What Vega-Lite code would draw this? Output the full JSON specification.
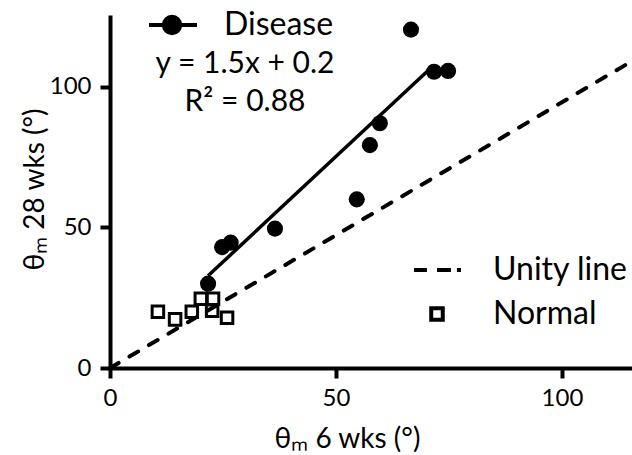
{
  "$schema": "https://vega.github.io/schema/vega-lite/v6.json",
  "width": 522,
  "height": 353,
  "autosize": "none",
  "padding": {"left": 110, "top": 15, "right": 0, "bottom": 87},
  "background": "white",
  "config": {
    "view": {"stroke": null},
    "font": "Lato",
    "axis": {
      "domainColor": "black", "domainWidth": 4, "ticks": true, "tickColor": "black", "tickWidth": 4, "tickSize": 10, "tickOpacity": 1,
      "labelFont": "Lato", "labelFontSize": 24, "labelColor": "black", "labelFlush": false, "grid": false,
      "titleFont": "Lato", "titleFontSize": 28, "titleFontWeight": "normal", "titleColor": "black"
    }
  },
  "datasets": {
    "unity": [{"x": 0, "y": 0}, {"x": 115.5, "y": 109.2}],
    "fit": [{"x": 21.7, "y": 32.8}, {"x": 71.7, "y": 107.8}],
    "normal": [
      {"x": 10.6, "y": 20.0}, {"x": 14.4, "y": 17.3}, {"x": 18.1, "y": 20.0}, {"x": 20.1, "y": 24.6},
      {"x": 22.8, "y": 24.6}, {"x": 22.6, "y": 20.4}, {"x": 25.9, "y": 17.9}
    ],
    "disease": [
      {"x": 21.7, "y": 30.0}, {"x": 24.8, "y": 43.0}, {"x": 26.7, "y": 44.6}, {"x": 36.5, "y": 49.6},
      {"x": 54.6, "y": 60.0}, {"x": 57.5, "y": 79.3}, {"x": 59.7, "y": 87.1}, {"x": 71.7, "y": 105.4},
      {"x": 74.8, "y": 105.7}, {"x": 66.6, "y": 120.4}
    ]
  },
  "encoding": {
    "x": {
      "field": "x", "type": "quantitative",
      "scale": {"domain": [0, 115.5], "nice": false, "zero": false},
      "axis": {"values": [0, 50, 100], "ticks": true, "tickSize": 10, "tickWidth": 4, "labelFlush": false, "title": "θₘ 6 wks (°)", "titleX": 237, "titleY": 79, "titleBaseline": "alphabetic", "labelPadding": 8}
    },
    "y": {
      "field": "y", "type": "quantitative",
      "scale": {"domain": [0, 125.6], "nice": false, "zero": false},
      "axis": {"values": [0, 50, 100], "ticks": true, "tickSize": 10, "tickWidth": 4, "labelFlush": false, "title": "θₘ 28 wks (°)", "titleX": -67, "titleY": 174, "titleBaseline": "alphabetic", "titleAlign": "center", "labelPadding": 9}
    }
  },
  "layer": [
    {
      "data": {"name": "unity"},
      "mark": {"type": "line", "color": "black", "strokeWidth": 4, "strokeDash": [10, 12.6], "strokeCap": "round"}
    },
    {
      "data": {"name": "fit"},
      "mark": {"type": "line", "color": "black", "strokeWidth": 3.5}
    },
    {
      "data": {"name": "normal"},
      "mark": {"type": "point", "filled": false, "color": "black", "strokeWidth": 3, "size": 2304, "opacity": 1},
      "encoding": {
        "shape": {
          "datum": "Normal",
          "scale": {"domain": ["Unity line", "Normal"], "range": ["M-0.96,0H-0.42M0,0H0.58M0.83,0H1", "M-0.24,-0.24H0.24V0.24H-0.24Z"]},
          "legend": {
            "orient": "none", "legendX": 301, "legendY": 229, "padding": 0, "title": null, "rowPadding": 2,
            "labelFontSize": 32, "labelFont": "Lato", "labelColor": "black", "labelOffset": 30,
            "symbolSize": 2304, "symbolStrokeColor": "black", "symbolStrokeWidth": 4, "symbolFillColor": "transparent", "symbolOpacity": 1
          }
        }
      }
    },
    {
      "data": {"name": "disease"},
      "mark": {"type": "point", "filled": true, "size": 260, "opacity": 1},
      "encoding": {
        "color": {
          "datum": "Disease",
          "scale": {"domain": ["Disease"], "range": ["black"]},
          "legend": {
            "orient": "none", "legendX": 45, "legendY": -16, "padding": 0,
            "title": ["y = 1.5x + 0.2", "R² = 0.88"], "titleOrient": "bottom", "titleAnchor": "middle", "titleAlign": "center",
            "titleFontSize": 30, "titleFont": "Lato", "titleFontWeight": "normal", "titleColor": "black", "titleLineHeight": 38, "titlePadding": 8, "titleLimit": 600,
            "labelFontSize": 32, "labelFont": "Lato", "labelColor": "black", "labelOffset": 15, "labelLimit": 400,
            "symbolType": "M-1.417,0H0.583M-0.118,0A0.34,0.34,0,1,1,-0.798,0A0.34,0.34,0,1,1,-0.118,0Z",
            "symbolSize": 2304, "symbolFillColor": "black", "symbolStrokeColor": "black", "symbolStrokeWidth": 4, "symbolOpacity": 1
          }
        }
      }
    }
  ]
}
